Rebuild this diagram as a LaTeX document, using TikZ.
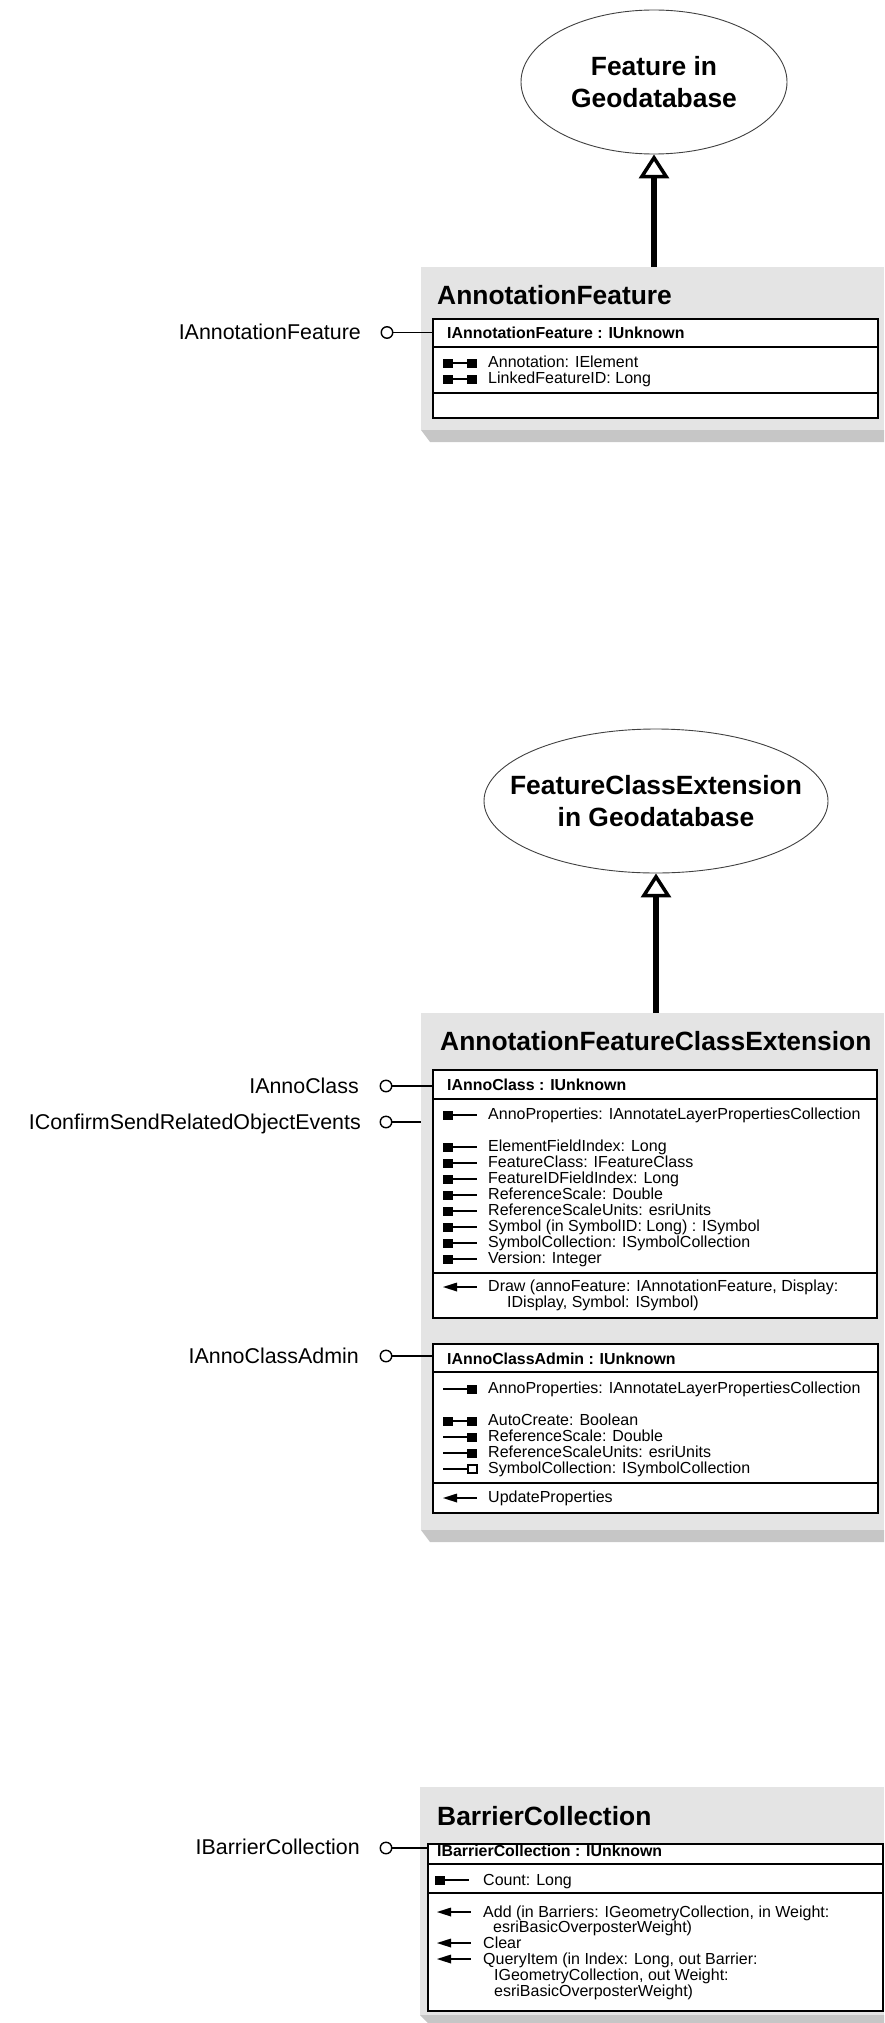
\documentclass[tikz,border=0pt]{standalone}
\usepackage{fontspec}
\setmainfont{Liberation Sans}
\usetikzlibrary{shapes.geometric,arrows.meta}

\definecolor{clsgray}{HTML}{E4E4E4}
\definecolor{shadegray}{HTML}{C6C6C6}

\newcommand{\memberfont}{\fontsize{16}{16}\selectfont}
\newcommand{\ifheadfont}{\fontsize{15.9}{16}\selectfont\bfseries}
\newcommand{\clstitlefont}{\fontsize{26.4}{32}\selectfont\bfseries}
\newcommand{\ifacefont}{\fontsize{21.4}{24}\selectfont}

\begin{document}
\begin{tikzpicture}[x=1pt,y=-1pt,
	every node/.style={inner sep=0pt},
	member/.style={anchor=base west,font=\memberfont},
	ifhead/.style={anchor=base west,font=\ifheadfont},
	clstitle/.style={anchor=base west,font=\clstitlefont},
	iflabel/.style={anchor=base east,font=\ifacefont},
	lolli/.style={circle,draw,line width=1.4pt,fill=white,minimum size=11.5pt},
	lolline/.style={line width=1.4pt},
	clsbox/.style={fill=clsgray,anchor=north west},
	ifbox/.style={draw,line width=1.6pt,fill=white,anchor=north west},
	divider/.style={line width=1.2pt},
	superclass/.style={ellipse,draw=black!75,line width=0.9pt},
	elltext/.style={align=center,font=\clstitlefont},
	inherit/.style={line width=6pt,-{Triangle[open,length=24pt,width=30pt,line width=3.5pt]}},
	rwprop/.pic={\fill (0,-4.5) rectangle (10,4.5); \draw[line width=1.4pt] (10,0) -- (24,0); \fill (24,-4.5) rectangle (34,4.5);},
	getprop/.pic={\fill (0,-4.5) rectangle (10,4.5); \draw[line width=1.4pt] (10,0) -- (34,0);},
	putprop/.pic={\draw[line width=1.4pt] (0,0) -- (24,0); \fill (24,-4.5) rectangle (34,4.5);},
	putref/.pic={\draw[line width=1.4pt] (0,0) -- (25,0); \draw[line width=1.2pt,fill=white] (25,-4) rectangle (34,4);},
	methodsym/.pic={\fill (0,0) -- (14,-4.5) -- (14,4.5) -- cycle; \draw[line width=1.4pt] (13,0) -- (34,0);}]

	\useasboundingbox (0,0) rectangle (884,2023);

		% AnnotationFeature
		\node[superclass,minimum width=266pt,minimum height=144pt] (ell1) at (654,82) {};
		\node[elltext] (ell1txt) at (ell1) {Feature in\\Geodatabase};
		\node[clsbox,minimum width=463pt,minimum height=163pt] (afcls) at (421,267) {};
		\fill[shadegray] (421,430) -- (884,430) -- (884,442) -- (430,442) -- cycle;
		\node[clstitle] (aftitle) at (437,304) {AnnotationFeature};
		\node[ifbox,minimum width=445pt,minimum height=99pt] (afif) at (432,318) {};
		\draw[divider] (432,347) -- (877,347);
		\draw[divider] (432,393) -- (877,393);
		\node[ifhead] (afhead) at (447,338) {IAnnotationFeature : IUnknown};
		\pic at (443,363) {rwprop};
		\node[member] (af1) at (488,367) {Annotation: IElement};
		\pic at (443,379) {rwprop};
		\node[member] (af2) at (488,383) {LinkedFeatureID: Long};

		\node[lolli] (afc) at (387,332.5) {};
		\node[iflabel] (aflab) at (361,339) {IAnnotationFeature};
		\draw[lolline] (afc) -- (afc -| afif.west);
		\draw[inherit] (afcls.north -| ell1.south) -- (ell1.south);

		% AnnotationFeatureClassExtension
		\node[superclass,minimum width=344pt,minimum height=144pt] (ell2) at (656,801) {};
		\node[elltext] (ell2txt) at (ell2) {FeatureClassExtension\\in Geodatabase};
		\node[clsbox,minimum width=463pt,minimum height=517pt] (afxcls) at (421,1013) {};
		\fill[shadegray] (421,1530) -- (884,1530) -- (884,1542) -- (430,1542) -- cycle;
		\node[clstitle] (afxtitle) at (440,1050) {AnnotationFeatureClassExtension};

		\node[ifbox,minimum width=444pt,minimum height=248pt] (acif) at (432,1069) {};
		\draw[divider] (432,1099) -- (876,1099);
		\draw[divider] (432,1273) -- (876,1273);
		\node[ifhead] (achead) at (447,1090) {IAnnoClass : IUnknown};
		\pic at (443,1115) {getprop};
		\node[member] (ac1) at (488,1119) {AnnoProperties: IAnnotateLayerPropertiesCollection};
		\pic at (443,1147) {getprop};
		\node[member] (ac2) at (488,1151) {ElementFieldIndex: Long};
		\pic at (443,1163) {getprop};
		\node[member] (ac3) at (488,1167) {FeatureClass: IFeatureClass};
		\pic at (443,1179) {getprop};
		\node[member] (ac4) at (488,1183) {FeatureIDFieldIndex: Long};
		\pic at (443,1195) {getprop};
		\node[member] (ac5) at (488,1199) {ReferenceScale: Double};
		\pic at (443,1211) {getprop};
		\node[member] (ac6) at (488,1215) {ReferenceScaleUnits: esriUnits};
		\pic at (443,1227) {getprop};
		\node[member] (ac7) at (488,1231) {Symbol (in SymbolID: Long) : ISymbol};
		\pic at (443,1243) {getprop};
		\node[member] (ac8) at (488,1247) {SymbolCollection: ISymbolCollection};
		\pic at (443,1259) {getprop};
		\node[member] (ac9) at (488,1263) {Version: Integer};
		\pic at (443,1287) {methodsym};
		\node[member] (ac10) at (488,1291) {Draw (annoFeature: IAnnotationFeature, Display:};
		\node[member] (ac11) at (507,1307) {IDisplay, Symbol: ISymbol)};

		\node[ifbox,minimum width=445pt,minimum height=169pt] (aaif) at (432,1343) {};
		\draw[divider] (432,1372) -- (877,1372);
		\draw[divider] (432,1483) -- (877,1483);
		\node[ifhead] (aahead) at (447,1364) {IAnnoClassAdmin : IUnknown};
		\pic at (443,1389) {putprop};
		\node[member] (aa1) at (488,1393) {AnnoProperties: IAnnotateLayerPropertiesCollection};
		\pic at (443,1421) {rwprop};
		\node[member] (aa2) at (488,1425) {AutoCreate: Boolean};
		\pic at (443,1437) {putprop};
		\node[member] (aa3) at (488,1441) {ReferenceScale: Double};
		\pic at (443,1453) {putprop};
		\node[member] (aa4) at (488,1457) {ReferenceScaleUnits: esriUnits};
		\pic at (443,1469) {putref};
		\node[member] (aa5) at (488,1473) {SymbolCollection: ISymbolCollection};
		\pic at (443,1498) {methodsym};
		\node[member] (aa6) at (488,1502) {UpdateProperties};

		\node[lolli] (acc) at (386,1086) {};
		\node[iflabel] (aclab) at (359,1093) {IAnnoClass};
		\draw[lolline] (acc) -- (acc -| acif.west);
		\node[lolli] (csc) at (386,1122) {};
		\node[iflabel] (cslab) at (361,1129) {IConfirmSendRelatedObjectEvents};
		\draw[lolline] (csc) -- (csc -| afxcls.west);
		\node[lolli] (aac) at (386,1356) {};
		\node[iflabel] (aalab) at (359,1363) {IAnnoClassAdmin};
		\draw[lolline] (aac) -- (aac -| aaif.west);
		\draw[inherit] (afxcls.north -| ell2.south) -- (ell2.south);

		% BarrierCollection
		\node[clsbox,minimum width=464pt,minimum height=228pt] (bccls) at (420,1787) {};
		\fill[shadegray] (420,2015) -- (884,2015) -- (884,2023) -- (428,2023) -- cycle;
		\node[clstitle] (bctitle) at (437,1825) {BarrierCollection};
		\node[ifbox,minimum width=455pt,minimum height=167pt] (bcif) at (427,1843) {};
		\draw[divider] (427,1864) -- (882,1864);
		\draw[divider] (427,1893) -- (882,1893);
		\node[ifhead] (bchead) at (437,1856) {IBarrierCollection : IUnknown};
		\pic at (435,1880) {getprop};
		\node[member] (bc1) at (483,1885) {Count: Long};
		\pic at (437,1912) {methodsym};
		\node[member] (bc2) at (483,1917) {Add (in Barriers: IGeometryCollection, in Weight:};
		\node[member] (bc3) at (493,1932) {esriBasicOverposterWeight)};
		\pic at (437,1943) {methodsym};
		\node[member] (bc4) at (483,1948) {Clear};
		\pic at (437,1959) {methodsym};
		\node[member] (bc5) at (483,1964) {QueryItem (in Index: Long, out Barrier:};
		\node[member] (bc6) at (494,1980) {IGeometryCollection, out Weight:};
		\node[member] (bc7) at (494,1996) {esriBasicOverposterWeight)};

		\node[lolli] (bcc) at (386,1848) {};
		\node[iflabel] (bclab) at (360,1854) {IBarrierCollection};
		\draw[lolline] (bcc) -- (bcc -| bcif.west);

	\end{tikzpicture}
\end{document}
